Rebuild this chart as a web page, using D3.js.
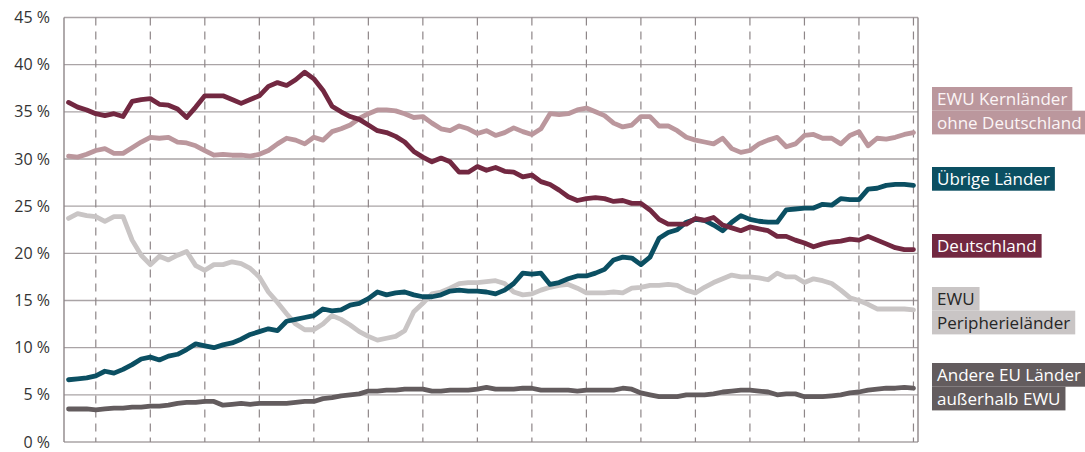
<!DOCTYPE html>
<html>
<head>
<meta charset="utf-8">
<script src="https://cdn.jsdelivr.net/npm/d3@7"></script>
<style>
  body { margin: 0; background: #fff; }
  svg { display: block; font-family: "Open Sans", "DejaVu Sans", sans-serif; }
</style>
</head>
<body>
<svg id="chart" width="1085" height="452"></svg>
<script>
// shares in %, one value every two months
var deutschland = [36.0,35.5,35.2,34.8,34.6,34.8,34.5,36.1,36.3,36.4,35.8,35.7,35.3,34.4,35.5,36.7,36.7,36.7,36.3,35.9,36.3,36.7,37.7,38.1,
  37.8,38.4,39.2,38.5,37.3,35.6,35.0,34.5,34.2,33.6,33.0,32.8,32.4,31.8,30.8,30.2,29.7,30.1,29.7,28.6,28.6,29.2,28.8,
  29.1,28.7,28.6,28.1,28.3,27.6,27.3,26.7,26.0,25.6,25.8,25.9,25.8,25.5,25.6,25.3,25.3,24.6,23.6,23.1,23.1,23.1,23.7,23.5,
  23.8,23.0,22.7,22.4,22.8,22.6,22.4,21.8,21.8,21.4,21.1,20.7,21.0,21.2,21.3,21.5,21.4,21.8,21.4,21.0,20.6,20.4,20.4];
var ewuKern = [30.3,30.2,30.5,30.9,31.1,30.6,30.6,31.2,31.8,32.3,32.2,32.3,31.8,31.7,31.4,30.9,30.4,30.5,30.4,30.4,30.3,30.5,30.9,31.6,
  32.2,32.0,31.6,32.3,32.0,32.9,33.2,33.6,34.3,34.8,35.2,35.2,35.1,34.8,34.4,34.5,33.8,33.2,33.0,33.5,33.2,32.7,33.0,
  32.5,32.8,33.3,32.9,32.6,33.2,34.8,34.7,34.8,35.2,35.4,35.0,34.6,33.8,33.4,33.6,34.5,34.5,33.5,33.5,33.0,32.3,32.0,31.8,
  31.6,32.2,31.1,30.7,30.9,31.6,32.0,32.3,31.3,31.6,32.5,32.6,32.2,32.2,31.6,32.5,32.9,31.4,32.2,32.1,32.3,32.6,32.8];
var uebrige = [6.6,6.7,6.8,7.0,7.5,7.3,7.7,8.2,8.8,9.0,8.7,9.1,9.3,9.8,10.4,10.2,10.0,10.3,10.5,10.9,11.4,11.7,12.0,11.8,
  12.8,13.0,13.2,13.4,14.1,13.9,14.0,14.5,14.7,15.2,15.9,15.6,15.8,15.9,15.6,15.4,15.4,15.6,16.0,16.1,16.0,16.0,15.9,
  15.7,16.1,16.8,17.9,17.8,17.9,16.7,16.9,17.3,17.6,17.6,17.9,18.3,19.3,19.6,19.5,18.8,19.6,21.6,22.2,22.5,23.3,23.6,23.5,
  23.0,22.4,23.3,24.0,23.6,23.4,23.3,23.3,24.6,24.7,24.8,24.8,25.2,25.1,25.8,25.7,25.7,26.8,26.9,27.2,27.3,27.3,27.2];
var peripherie = [23.7,24.2,24.0,23.9,23.4,23.9,23.9,21.4,19.8,18.8,19.7,19.3,19.8,20.2,18.7,18.2,18.8,18.8,19.1,18.9,18.4,17.5,15.9,14.8,
  13.6,12.5,11.9,11.9,12.5,13.4,13.0,12.4,11.7,11.2,10.8,11.0,11.2,11.8,13.8,14.7,15.7,15.9,16.3,16.8,16.9,16.9,17.0,
  17.1,16.8,15.9,15.6,15.7,16.1,16.4,16.6,16.7,16.3,15.8,15.8,15.8,15.9,15.8,16.3,16.4,16.6,16.6,16.7,16.6,16.1,15.8,16.4,
  16.9,17.3,17.7,17.5,17.5,17.4,17.2,17.9,17.5,17.5,16.9,17.3,17.1,16.8,16.1,15.3,15.0,14.6,14.1,14.1,14.1,14.1,14.0];
var andereEU = [3.5,3.5,3.5,3.4,3.5,3.6,3.6,3.7,3.7,3.8,3.8,3.9,4.1,4.2,4.2,4.3,4.3,3.9,4.0,4.1,4.0,4.1,4.1,4.1,
  4.1,4.2,4.3,4.3,4.6,4.7,4.9,5.0,5.1,5.4,5.4,5.5,5.5,5.6,5.6,5.6,5.4,5.4,5.5,5.5,5.5,5.6,5.8,
  5.6,5.6,5.6,5.7,5.7,5.5,5.5,5.5,5.5,5.4,5.5,5.5,5.5,5.5,5.7,5.6,5.2,5.0,4.8,4.8,4.8,5.0,5.0,5.0,
  5.1,5.3,5.4,5.5,5.5,5.4,5.3,5.0,5.1,5.1,4.8,4.8,4.8,4.9,5.0,5.2,5.3,5.5,5.6,5.7,5.7,5.8,5.7];

var yTicks = [0, 5, 10, 15, 20, 25, 30, 35, 40, 45];
var totalMonths = 188;      // months covered by the x axis
var firstYearBreak = 7;     // month of the first year boundary
var yearBreaks = d3.range(firstYearBreak, totalMonths, 12);

var seriesNames = ["Andere EU Länder außerhalb EWU", "EWU Peripherieländer", "Übrige Länder", "EWU Kernländer ohne Deutschland", "Deutschland"];
var seriesData = [andereEU, peripherie, uebrige, ewuKern, deutschland];
var seriesColors = ["#635c5e", "#c9c5c5", "#0b4f62", "#bb979d", "#722841"];

var legendLines = [
  ["EWU Kernländer", "ohne Deutschland"],
  ["Übrige Länder"],
  ["Deutschland"],
  ["EWU", "Peripherieländer"],
  ["Andere EU Länder", "außerhalb EWU"]
];
var legendBg = ["#bb979d", "#0b4f62", "#722841", "#c9c5c5", "#635c5e"];
var legendFg = ["#fbf5f6", "#ffffff", "#ffffff", "#262626", "#ffffff"];
var legendTop = [87, 167, 234, 287, 363];

var svg = d3.select("#chart");
var margin = {left: 64, right: 167, top: 17.5, bottom: 10};
var width = 1085 - margin.left - margin.right;
var height = 452 - margin.top - margin.bottom;

var x = d3.scaleLinear().domain([0, totalMonths]).range([0, width]);
var y = d3.scaleLinear().domain([0, 45]).range([height, 0]);

var g = svg.append("g").attr("transform", "translate(" + margin.left + "," + margin.top + ")");

// horizontal grid
g.selectAll(".hgrid").data(yTicks).enter().append("line")
  .attr("class", "hgrid")
  .attr("x1", 0).attr("x2", width)
  .attr("y1", d => y(d)).attr("y2", d => y(d))
  .attr("stroke", "#aaa4a6").attr("stroke-width", 1.4);

// year separators
g.selectAll(".vgrid").data(yearBreaks).enter().append("line")
  .attr("class", "vgrid")
  .attr("x1", d => x(d)).attr("x2", d => x(d))
  .attr("y1", 0).attr("y2", height)
  .attr("stroke", "#8e8688").attr("stroke-width", 1.2)
  .attr("stroke-dasharray", "8,6");

// frame left/right
g.append("line").attr("x1", 0).attr("x2", 0).attr("y1", 0).attr("y2", height)
  .attr("stroke", "#8e8688").attr("stroke-width", 1.4);
g.append("line").attr("x1", width).attr("x2", width).attr("y1", 0).attr("y2", height)
  .attr("stroke", "#8e8688").attr("stroke-width", 1.4);

// y labels
var yAxis = d3.axisLeft(y).tickValues(yTicks).tickSize(0).tickPadding(14).tickFormat(d => d + " %");
g.append("g").call(yAxis)
  .call(a => a.select(".domain").remove())
  .selectAll("text")
  .attr("font-family", "'Open Sans', sans-serif")
  .attr("font-size", 16)
  .attr("fill", "#333");

// lines
var line = d3.line()
  .x((d, i) => x(1 + 2 * i))
  .y(d => y(d));

g.selectAll(".series").data(seriesData).enter().append("path")
  .attr("class", "series")
  .attr("fill", "none")
  .attr("stroke", (d, i) => seriesColors[i])
  .attr("stroke-width", 4.8)
  .attr("stroke-linejoin", "round")
  .attr("stroke-linecap", "round")
  .attr("d", line);

// legend labels with highlighted background per line
var lineH = 23.7;
legendLines.forEach(function(lines, k) {
  var lg = svg.append("g").attr("transform", "translate(932," + legendTop[k] + ")");
  lines.forEach(function(t, j) {
    var row = lg.append("g").attr("transform", "translate(0," + (j * lineH) + ")");
    var rect = row.append("rect").attr("fill", legendBg[k]).attr("height", lineH);
    var txt = row.append("text")
      .attr("x", 5).attr("y", 18)
      .attr("font-size", 17)
      .attr("fill", legendFg[k])
      .text(t);
    var w = txt.node().getComputedTextLength();
    rect.attr("width", w + 10);
  });
});
</script>
</body>
</html>
